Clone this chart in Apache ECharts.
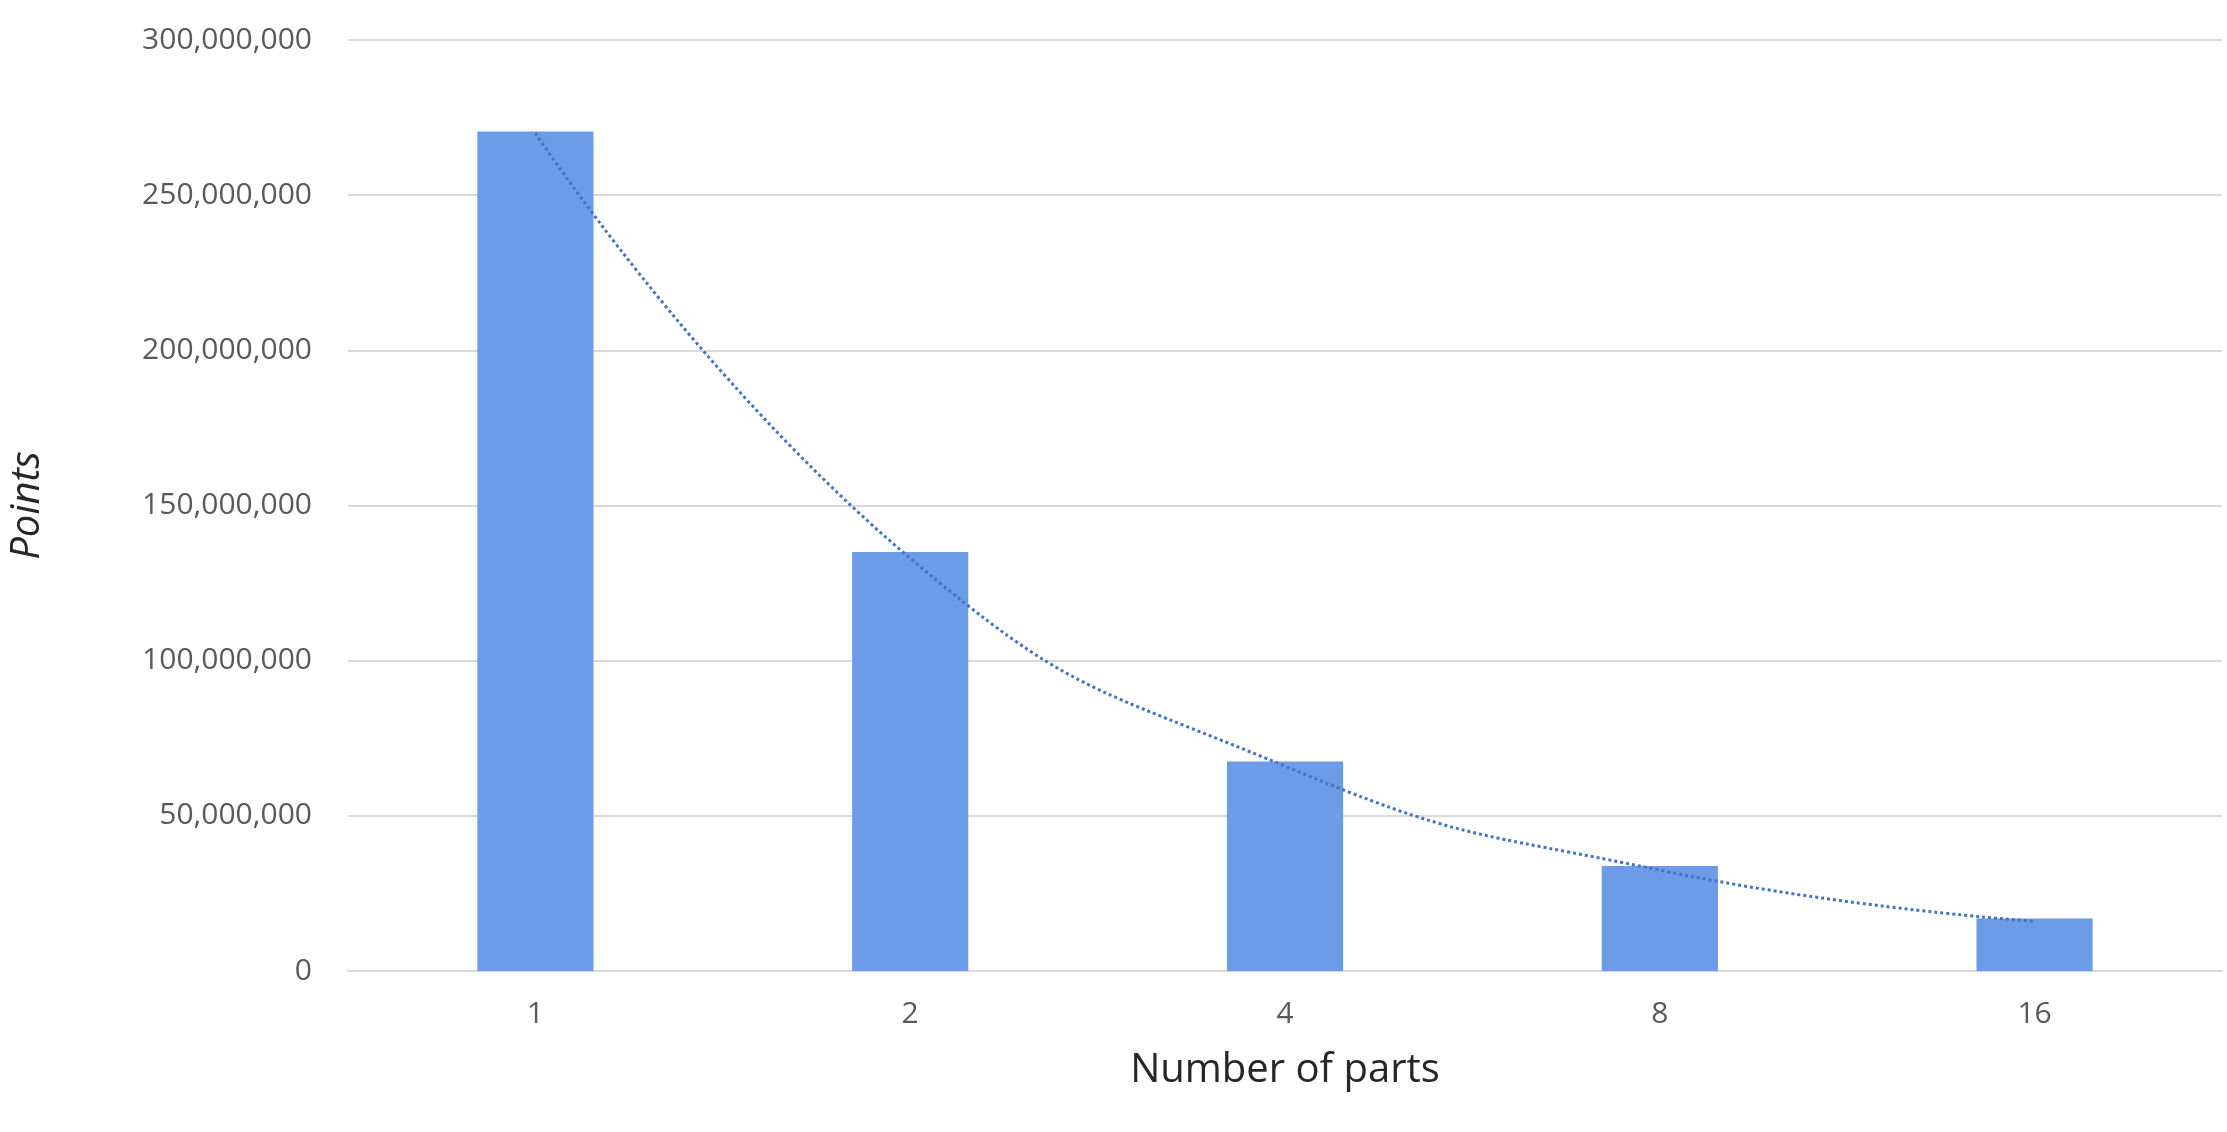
<!DOCTYPE html><html><head><meta charset="utf-8">
<script src="https://cdn.jsdelivr.net/npm/echarts@6/dist/echarts.min.js"></script>
<style>html,body{margin:0;background:#fff}#c{width:2227px;height:1132px}</style></head><body><div id="c"></div>
<script>
const categories=['1','2','4','8','16'];
const points=[270500000,135000000,67500000,33800000,16900000];
const trend=[270000000,133000000,66000000,32500000,16000000];
const yTicks=[0,50000000,100000000,150000000,200000000,250000000,300000000];
const chart=echarts.init(document.getElementById('c'));
const fmt=v=>v.toLocaleString('en-US');
chart.setOption({
 animation:false,
 grid:{left:341,right:5,top:40,bottom:161},
 xAxis:{type:'category',data:categories,name:'Number of parts',nameLocation:'middle',nameGap:80,
  nameTextStyle:{fontSize:40,color:'#262626',fontFamily:'Open Sans'},
  axisLine:{lineStyle:{color:'#d9d9d9',width:2}},axisTick:{show:false},
  axisLabel:{fontSize:30,color:'#595959',margin:28,fontFamily:'Open Sans'}},
 yAxis:{type:'value',min:0,max:300000000,interval:50000000,name:'Points',nameLocation:'middle',nameGap:300,
  nameTextStyle:{fontSize:40,color:'#262626',fontStyle:'italic',fontFamily:'Open Sans'},
  axisLabel:{fontSize:30,color:'#595959',margin:36,formatter:fmt,fontFamily:'Open Sans'},
  splitLine:{lineStyle:{color:'#d9d9d9',width:2}}},
 series:[
  {type:'bar',data:points,barWidth:'31%',itemStyle:{color:'#6c9ce8'}},
  {type:'line',data:trend,smooth:0.5,symbol:'none',lineStyle:{type:'dotted',color:'#4472c4',width:3},z:5}
 ]
});
</script></body></html>
